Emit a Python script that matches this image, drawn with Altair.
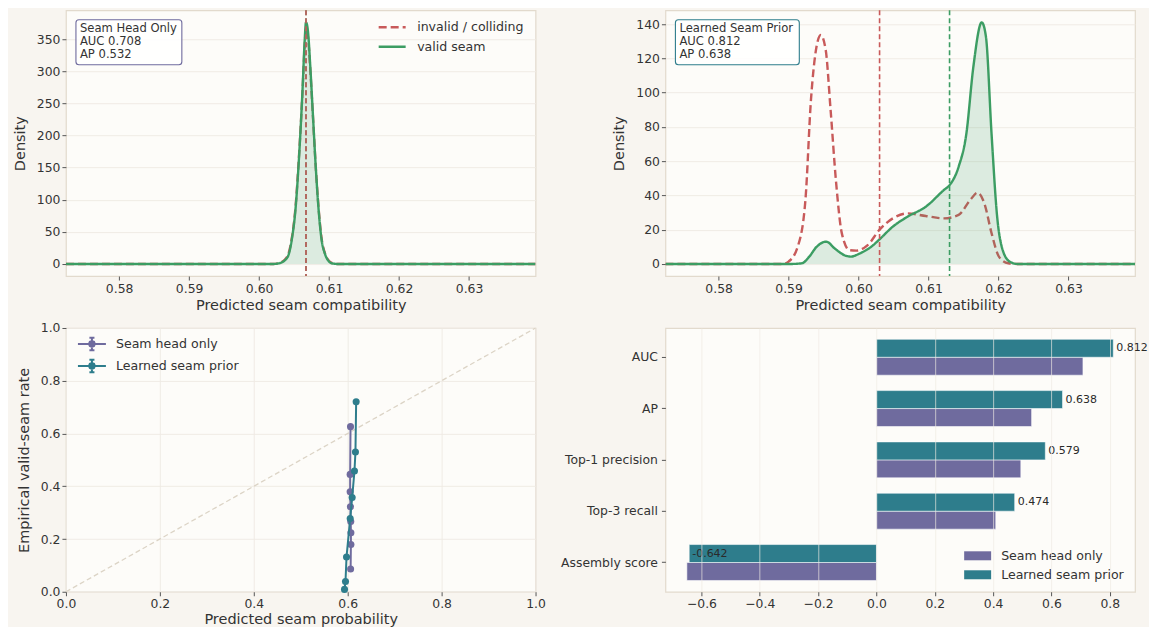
import altair as alt
import pandas as pd

# ---------------- data ----------------
# Top-left: Seam Head Only score densities
hd_valid_x = [0.5724, 0.6020, 0.6030, 0.6037, 0.6042, 0.6047, 0.6052, 0.6057, 0.6062, 0.6065, 0.6067,
              0.6070, 0.6073, 0.6077, 0.6081, 0.6085, 0.6089, 0.6094, 0.6099, 0.6104, 0.6112, 0.6395]
hd_valid_y = [0, 0, 1.5, 6, 14, 40, 85, 165, 270, 345, 376,
              360, 310, 230, 150, 85, 40, 16, 5, 1, 0, 0]
hd_invalid_x = [0.5724, 0.6020, 0.6030, 0.6037, 0.6042, 0.6047, 0.6052, 0.6057, 0.6062, 0.6065, 0.6067,
                0.6070, 0.6073, 0.6077, 0.6081, 0.6085, 0.6089, 0.6094, 0.6099, 0.6104, 0.6112, 0.6395]
hd_invalid_y = [0, 0, 2, 7, 16, 42, 88, 168, 268, 338, 366,
                352, 305, 228, 150, 87, 42, 17, 6, 1.5, 0, 0]
hd_mean_invalid = 0.6067
hd_mean_valid = 0.6067
hd_auc, hd_ap = 0.708, 0.532

# Top-right: Learned Seam Prior score densities
pr_invalid_x = [0.5724, 0.5892, 0.5900, 0.5913, 0.5924, 0.5932, 0.5940, 0.5946, 0.5953, 0.5960, 0.5968,
                0.5976, 0.5987, 0.5997, 0.6013, 0.6030, 0.6049, 0.6070, 0.6096, 0.6122, 0.6143, 0.6159,
                0.6170, 0.6180, 0.6190, 0.6201, 0.6214, 0.6227, 0.6395]
pr_invalid_y = [0, 0, 1.4, 10, 37, 96, 127, 133.6, 125, 90, 47,
                18, 8, 7.8, 11, 20, 26.6, 29.5, 28, 26.6, 28.6, 37,
                41.6, 35, 18, 4, 0.4, 0, 0]
pr_valid_x = [0.5724, 0.5903, 0.5919, 0.5929, 0.5940, 0.5954, 0.5966, 0.5981, 0.5989, 0.6002, 0.6018,
              0.6030, 0.6049, 0.6070, 0.6096, 0.6122, 0.6130, 0.6143, 0.6154, 0.6164, 0.6176, 0.6182,
              0.6190, 0.6198, 0.6206, 0.6216, 0.6227, 0.6395]
pr_valid_y = [0, 0, 0.4, 4, 10, 13, 9, 4.9, 4.3, 6.2, 10,
              14.4, 21.8, 27.6, 33.4, 43.2, 46, 56.8, 76, 115, 141, 132.6,
              76, 27.6, 8, 1.4, 0, 0]
pr_mean_invalid = 0.6030
pr_mean_valid = 0.6130
pr_auc, pr_ap = 0.812, 0.638

# Bottom-left: calibration
cal_head_pred = [0.6062, 0.6068, 0.6068, 0.6065, 0.6058, 0.6052, 0.6052, 0.6060]
cal_head_rate = [0.086, 0.179, 0.224, 0.266, 0.322, 0.379, 0.445, 0.626]
cal_prior_pred = [0.5932, 0.5953, 0.5975, 0.6053, 0.6095, 0.6144, 0.6165, 0.6180]
cal_prior_rate = [0.009, 0.039, 0.132, 0.278, 0.357, 0.458, 0.530, 0.720]
diag_vals = [0.0, 1.0]

# Bottom-right: metric comparison
metrics = ["AUC", "AP", "Top-1 precision", "Top-3 recall", "Assembly score"]
head_vals = [0.708, 0.532, 0.495, 0.409, -0.650]
prior_vals = [0.812, 0.638, 0.579, 0.474, -0.642]

# ---------------- style ----------------
RED = "#c85a5a"
GREEN = "#3c9d63"
PURPLE = "#6f6b9e"
TEAL = "#2e7d8c"
TXT = "#333333"
FONT = "DejaVu Sans"
W = 470
H_TOP, H_BOT = 266, 264
XDOM = [0.5724, 0.6395]

INV, VAL = "invalid / colliding", "valid seam"
HEAD, PRIOR = "Seam head only", "Learned seam prior"

SYM = 324  # legend symbol box 18x18 px; custom paths extend beyond it


def density_panel(inv_x, inv_y, val_x, val_y, m_inv, m_val, ymax, yticks, box_title, auc, ap,
                  box_color, box_w, show_legend, key):
    df = pd.DataFrame({
        "x": list(inv_x) + list(val_x),
        "y": list(inv_y) + list(val_y),
        key: [INV] * len(inv_x) + [VAL] * len(val_x),
    })
    dval = pd.DataFrame({"x": val_x, "y": val_y})
    xs = alt.Scale(domain=XDOM, nice=False, zero=False)
    pad = ymax * 0.05
    ys = alt.Scale(domain=[-pad, ymax + pad], nice=False, zero=False)
    xax = alt.Axis(title="Predicted seam compatibility", values=[0.58, 0.59, 0.60, 0.61, 0.62, 0.63],
                   format=".2f", grid=False, labelFlush=False)
    yax = alt.Axis(title="Density", values=yticks, grid=True, format="d", labelOverlap=False,
                   titlePadding=9)
    leg = alt.Legend(title=None, orient="none", legendX=316, legendY=6.5,
                     symbolType="M-1.5,0L1.5,0", symbolSize=SYM, symbolStrokeWidth=2.5,
                     labelOffset=14.5, rowPadding=1.5, padding=0) if show_legend else None
    lines = alt.Chart(df).mark_line(strokeWidth=2.4, clip=True, interpolate="monotone").encode(
        x=alt.X("x:Q", scale=xs, axis=xax),
        y=alt.Y("y:Q", scale=ys, axis=yax),
        color=alt.Color(f"{key}:N", scale=alt.Scale(domain=[INV, VAL], range=[RED, GREEN]), legend=leg),
        strokeDash=alt.StrokeDash(f"{key}:N", scale=alt.Scale(domain=[INV, VAL], range=[[8, 4], [1, 0]]),
                                  legend=leg),
        order=alt.Order("x:Q"),
    )
    area = alt.Chart(dval).mark_area(color=GREEN, opacity=0.17, clip=True, interpolate="monotone").encode(
        x=alt.X("x:Q", scale=xs, axis=xax), y=alt.Y("y:Q", scale=ys, axis=yax), y2=alt.datum(0))
    vl = pd.DataFrame({"x": [m_val, m_inv], "c": [GREEN, RED]})
    vrules = alt.Chart(vl).mark_rule(strokeWidth=1.6, strokeDash=[5, 3]).encode(
        x=alt.X("x:Q", scale=xs, axis=xax), color=alt.Color("c:N", scale=None))
    box = alt.Chart(pd.DataFrame({"a": [0]})).mark_rect(
        fill="white", fillOpacity=0.85, stroke=box_color, strokeWidth=1.1, cornerRadius=3).encode(
        x=alt.value(10), x2=alt.value(10 + box_w), y=alt.value(9.5), y2=alt.value(54.5))
    txt = alt.Chart(pd.DataFrame({"t": [f"{box_title}\nAUC {auc:.3f}\nAP {ap:.3f}"]})).mark_text(
        align="left", baseline="top", font=FONT, fontSize=11.6, color=TXT, lineBreak="\n",
        lineHeight=13).encode(x=alt.value(14), y=alt.value(12.8), text="t:N")
    lines_red = lines.transform_filter(alt.datum[key] == INV)
    lines_green = lines.transform_filter(alt.datum[key] == VAL)
    return alt.layer(lines_red, area, lines_green, vrules, box, txt).properties(width=W, height=H_TOP)


tl = density_panel(hd_invalid_x, hd_invalid_y, hd_valid_x, hd_valid_y, hd_mean_invalid, hd_mean_valid,
                   376, [0, 50, 100, 150, 200, 250, 300, 350], "Seam Head Only", hd_auc, hd_ap,
                   PURPLE, 106, True, "s_tl")
tr = density_panel(pr_invalid_x, pr_invalid_y, pr_valid_x, pr_valid_y, pr_mean_invalid, pr_mean_valid,
                   141, [0, 20, 40, 60, 80, 100, 120, 140], "Learned Seam Prior", pr_auc, pr_ap,
                   TEAL, 124, False, "s_tr")

# ---------------- calibration ----------------
cal_h = pd.DataFrame({"p": cal_head_pred, "r": cal_head_rate, "s_bl": HEAD, "i": range(len(cal_head_pred))})
cal_p = pd.DataFrame({"p": cal_prior_pred, "r": cal_prior_rate, "s_bl": PRIOR, "i": range(len(cal_prior_pred))})
cx = alt.Scale(domain=[0, 1], nice=False)
cy = alt.Scale(domain=[0, 1], nice=False)
ticks01 = [0, 0.2, 0.4, 0.6, 0.8, 1.0]
cxax = alt.Axis(title="Predicted seam probability", values=ticks01, format=".1f", grid=True, labelFlush=False,
                titlePadding=2)
cyax = alt.Axis(title="Empirical valid-seam rate", values=ticks01, format=".1f", grid=True, labelOverlap=False,
                titlePadding=9)
errpath = ("M-1.556,0L1.556,0M0,-0.7L0,0.7M-0.28,-0.7L0.28,-0.7M-0.28,0.7L0.28,0.7"
           "M0.33,0L0.233,0.233L0,0.33L-0.233,0.233L-0.33,0L-0.233,-0.233L0,-0.33L0.233,-0.233Z"
           "M0.16,0L0.113,0.113L0,0.16L-0.113,0.113L-0.16,0L-0.113,-0.113L0,-0.16L0.113,-0.113Z")
cal_leg = alt.Legend(title=None, orient="none", legendX=16, legendY=6, symbolType=errpath,
                     symbolSize=SYM, symbolStrokeWidth=2, labelOffset=14, rowPadding=0, padding=0)
ccol = alt.Scale(domain=[HEAD, PRIOR], range=[PURPLE, TEAL])
diag = alt.Chart(pd.DataFrame({"p": diag_vals, "r": diag_vals})).mark_line(
    color="#dcd4c6", strokeWidth=1.3, strokeDash=[5, 3]).encode(
    x=alt.X("p:Q", scale=cx, axis=cxax), y=alt.Y("r:Q", scale=cy, axis=cyax))


def cal_layers(d):
    ln = alt.Chart(d).mark_line(strokeWidth=2).encode(
        x=alt.X("p:Q", scale=cx, axis=cxax), y=alt.Y("r:Q", scale=cy, axis=cyax), order=alt.Order("i:Q"),
        color=alt.Color("s_bl:N", scale=ccol, legend=cal_leg))
    pt = alt.Chart(d).mark_circle(size=50, opacity=1).encode(
        x=alt.X("p:Q", scale=cx, axis=cxax), y=alt.Y("r:Q", scale=cy, axis=cyax),
        color=alt.Color("s_bl:N", scale=ccol, legend=None))
    return [ln, pt]


bl = alt.layer(diag, *cal_layers(cal_h), *cal_layers(cal_p)).properties(width=W, height=H_BOT)

# ---------------- bar comparison ----------------
bar_df = pd.DataFrame({
    "metric": metrics * 2,
    "value": head_vals + prior_vals,
    "s_br": [HEAD] * len(metrics) + [PRIOR] * len(metrics),
    "label": [""] * len(metrics) + [f"{v:.3f}" for v in prior_vals],
})
bx = alt.Scale(domain=[-0.7235, 0.8865], nice=False, zero=False)
by = alt.Scale(domain=metrics, paddingInner=0.3, paddingOuter=0.22)
boff = alt.Scale(domain=[PRIOR, HEAD])
swatch = "M-1.5,-0.5L1.5,-0.5L1.5,0.5L-1.5,0.5Z"
bar_leg = alt.Legend(title=None, orient="none", legendX=303.5, legendY=219, symbolType=swatch,
                     symbolSize=SYM, symbolStrokeWidth=0, labelOffset=14.5, rowPadding=3, padding=0)
bxax = alt.Axis(title=None, values=[-0.6, -0.4, -0.2, 0.0, 0.2, 0.4, 0.6, 0.8], format=".1f",
                grid=True, zindex=1, labelFlush=False, gridOpacity=0.75)
byax = alt.Axis(title=None, grid=False, labelPadding=4)
bars = alt.Chart(bar_df).mark_bar(stroke="white", strokeWidth=0.8, strokeOpacity=0.7).encode(
    x=alt.X("value:Q", scale=bx, stack=None, axis=bxax),
    y=alt.Y("metric:N", scale=by, sort=metrics, axis=byax),
    yOffset=alt.YOffset("s_br:N", scale=boff),
    color=alt.Color("s_br:N", scale=alt.Scale(domain=[HEAD, PRIOR], range=[PURPLE, TEAL]), legend=bar_leg),
)
labels = alt.Chart(bar_df).transform_filter(alt.datum.s_br == PRIOR).mark_text(
    align="left", baseline="middle", dx=3, font=FONT, fontSize=11, color="#2a2a2a").encode(
    x=alt.X("value:Q", scale=bx, axis=bxax), y=alt.Y("metric:N", scale=by, sort=metrics, axis=byax),
    yOffset=alt.YOffset("s_br:N", scale=boff), text="label:N")
br = alt.layer(bars, labels).properties(width=W, height=H_BOT)

left = alt.vconcat(tl, bl, spacing=8).resolve_scale(color="independent", strokeDash="independent")
right = alt.vconcat(tr, br, spacing=14).resolve_scale(color="independent", strokeDash="independent")
chart = alt.hconcat(left, right, spacing=13).resolve_scale(
    color="independent", strokeDash="independent").properties(
    background="#f8f5f0", padding={"left": 3, "top": 0, "right": 0, "bottom": 0}
).configure_view(
    fill="#fdfcf9", stroke="#e2dacd", strokeWidth=1.2
).configure_axis(
    labelFont=FONT, titleFont=FONT, labelFontSize=12.4, titleFontSize=14.5, titleFontWeight="normal",
    labelColor=TXT, titleColor=TXT, tickColor="#555555", tickSize=4, tickWidth=1, domain=False,
    gridColor="#eeeae3", gridWidth=0.9, labelPadding=2, titlePadding=4
).configure_legend(
    labelFont=FONT, labelFontSize=12.6, labelColor=TXT
)

chart.save("out.html", embed_options={"renderer": "svg", "actions": False})
